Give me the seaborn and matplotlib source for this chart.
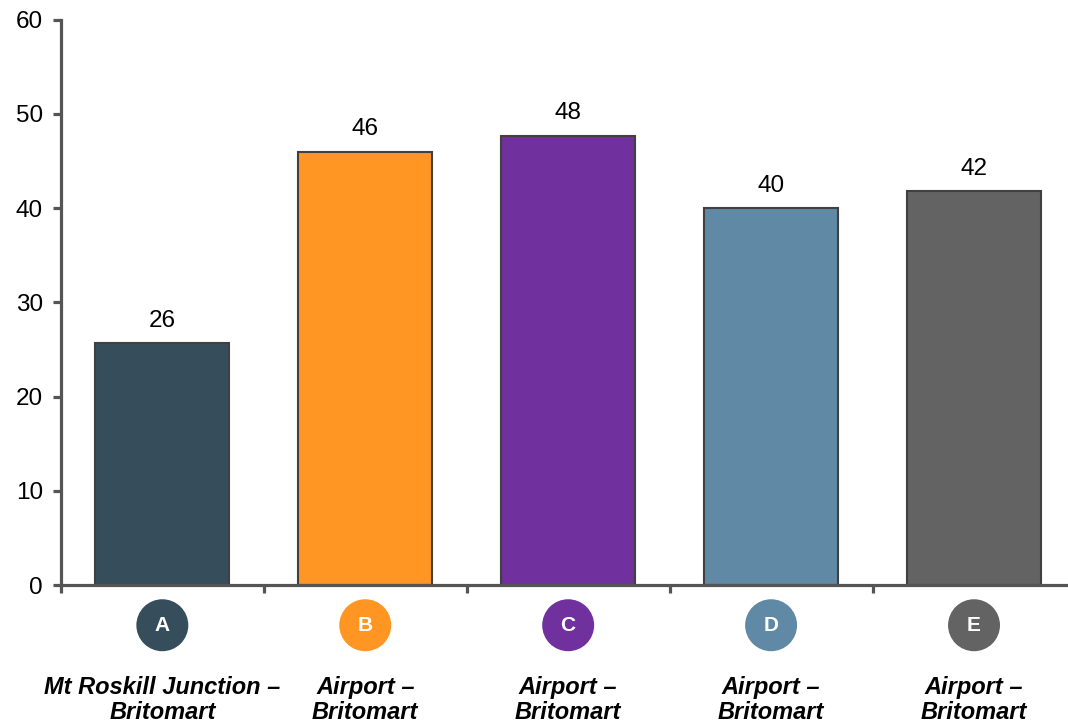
import numpy as np
import pandas as pd
import matplotlib
matplotlib.use("Agg")
import matplotlib.pyplot as plt
import matplotlib.transforms as mtransforms
import seaborn as sns

# chart data
letters = ["A", "B", "C", "D", "E"]
routes = ["Mt Roskill Junction –\nBritomart", "Airport –\nBritomart", "Airport –\nBritomart",
          "Airport –\nBritomart", "Airport –\nBritomart"]
values = [25.7, 46.0, 47.7, 40.0, 41.8]
colors = ["#364D5C", "#FF9522", "#70319E", "#6089A5", "#636363"]

df = pd.DataFrame({"letter": letters, "value": values})

# style
sns.set_theme(style="white")
plt.rcParams["font.family"] = ["Liberation Sans", "DejaVu Sans"]
axis_col = "#555555"

fig = plt.figure(figsize=(10.68, 7.25), dpi=100)
ax = fig.add_axes([0.057, 0.193, 0.95, 0.78])

sns.barplot(data=df, x="letter", y="value", hue="letter", palette=colors,
            saturation=1, width=0.66, edgecolor="#404040", linewidth=1.5,
            legend=False, ax=ax)

# value labels on top of bars
for cont in ax.containers:
    ax.bar_label(cont, fmt="%.0f", padding=8, fontsize=17.5, color="black")

# axes
ax.set_ylim(0, 60)
ax.set_xlim(-0.5, 4.46)
ax.set_yticks(np.arange(0, 61, 10))
ax.set_xticks([])
ax.set_xticks(np.arange(-0.5, 4.6, 1.0), minor=True)
ax.set_xlabel("")
ax.set_ylabel("")
sns.despine(ax=ax, top=True, right=True)
for side in ["left", "bottom"]:
    ax.spines[side].set_color(axis_col)
    ax.spines[side].set_linewidth(2.3)
ax.tick_params(axis="y", which="major", left=True, length=6, width=2.3,
               color=axis_col, labelsize=17.5, labelcolor="black", pad=7)
ax.tick_params(axis="x", which="minor", bottom=True, length=6, width=2.3,
               color=axis_col)

# circle markers and route names under the axis
trans = mtransforms.blended_transform_factory(ax.transData, ax.transAxes)
xs = np.arange(len(letters))
ax.scatter(xs, [-0.071] * len(xs), s=1400, c=colors, transform=trans,
           clip_on=False, zorder=5, linewidths=0)
for i, (let, route) in enumerate(zip(letters, routes)):
    ax.text(i, -0.071, let, transform=trans, ha="center", va="center",
            color="white", fontsize=15, fontweight="bold", zorder=6)
    ax.text(i, -0.16, route, transform=trans, ha="center", va="top",
            fontsize=17, fontweight="bold", fontstyle="italic",
            linespacing=1.12, color="black")

fig.savefig("out.png", dpi=100)
